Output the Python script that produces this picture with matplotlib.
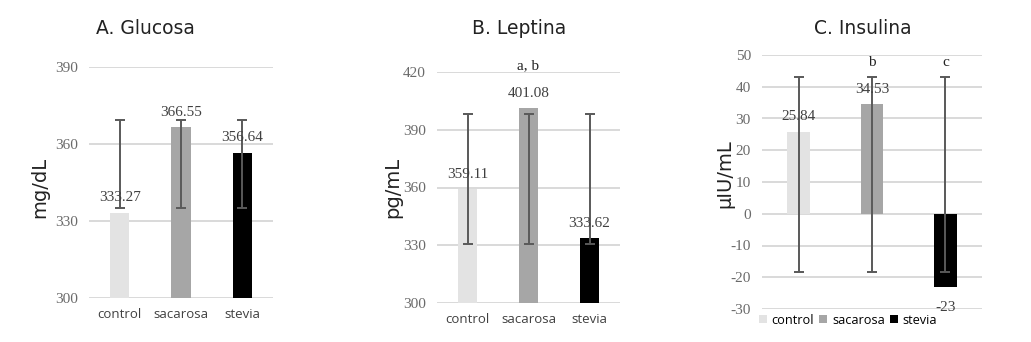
"""Glucosa, leptina e insulina por grupo (control, sacarosa, stevia)."""

import matplotlib
matplotlib.use("Agg")
import matplotlib.pyplot as plt
from matplotlib.patches import Patch

plt.rcParams["axes.unicode_minus"] = False

W, H = 1031, 342

groups = ["control", "sacarosa", "stevia"]
bar_colors = ["#e3e3e3", "#a6a6a6", "#000000"]

glucosa = [333.27, 366.55, 356.64]
glucosa_err_lo = [335.0, 335.0, 335.0]
glucosa_err_hi = [369.5, 369.5, 369.5]
glucosa_ticks = [300, 330, 360, 390]

leptina = [359.11, 401.08, 333.62]
leptina_err_lo = [330.6, 330.6, 330.6]
leptina_err_hi = [398.0, 398.0, 398.0]
leptina_ticks = [300, 330, 360, 390, 420]
leptina_marks = ["", "a, b", ""]

insulina = [25.84, 34.53, -23]
insulina_err_lo = [-18.5, -18.5, -18.5]
insulina_err_hi = [43.1, 43.1, 43.1]
insulina_ticks = [-30, -20, -10, 0, 10, 20, 30, 40, 50]
insulina_marks = ["", "b", "c"]
insulina_labels = ["25.84", "34.53", "-23"]

SERIF = "Liberation Serif"
SANS = "Open Sans"
HEAD = "DejaVu Sans"
GRID = "#d9d9d9"
ERR = "#595959"


def px_rect(x0, x1, y_top, y_bot):
    return [x0 / W, 1 - y_bot / H, (x1 - x0) / W, (y_bot - y_top) / H]


def draw_panel(ax, values, lo, hi, ticks, ylim, labels=None):
    x = list(range(len(values)))
    ax.bar(x, values, width=0.31, color=bar_colors, zorder=2)
    mid = [(a + b) / 2 for a, b in zip(lo, hi)]
    half = [(b - a) / 2 for a, b in zip(lo, hi)]
    ax.errorbar(x, mid, yerr=half, fmt="none", ecolor=ERR, elinewidth=1.4,
                capsize=3.5, capthick=1.4, zorder=3)
    ax.set_xlim(-0.5, 2.5)
    ax.set_ylim(*ylim)
    ax.set_yticks(ticks)
    ax.yaxis.grid(True, color=GRID, linewidth=1.4, zorder=0)
    ax.set_axisbelow(True)
    for s in ax.spines.values():
        s.set_visible(False)
    ax.tick_params(axis="y", length=0, pad=8, labelcolor="#6a6a6a", labelsize=11)
    for t in ax.get_yticklabels():
        t.set_fontfamily(SERIF)
    if labels is None:
        labels = [f"{v:.2f}" for v in values]
    for xi, v, lab in zip(x, values, labels):
        if v >= 0:
            ax.annotate(lab, (xi, v), xytext=(0, 6), textcoords="offset points",
                        ha="center", va="bottom", fontsize=11,
                        family=SERIF, color="#404040", zorder=4)
        else:
            ax.annotate(lab, (xi, v), xytext=(0, -10), textcoords="offset points",
                        ha="center", va="top", fontsize=11,
                        family=SERIF, color="#404040", zorder=4)
    return x


fig = plt.figure(figsize=(W / 100, H / 100), dpi=100)

# A. Glucosa
ax1 = fig.add_axes(px_rect(89, 273, 67, 298))
xa = draw_panel(ax1, glucosa, glucosa_err_lo, glucosa_err_hi, glucosa_ticks, (300, 390))
ax1.set_xticks(xa)
ax1.set_xticklabels(groups, family=SANS, fontsize=9.5, color="#404040")
ax1.tick_params(axis="x", length=0, pad=7)
fig.text(145 / W, 1 - 28 / H, "A. Glucosa", ha="center", va="center",
         family=HEAD, fontsize=13.5, color="#222222")
fig.text(40 / W, 1 - 187 / H, "mg/dL", ha="center", va="center", rotation=90,
         family=HEAD, fontsize=14, color="#222222")

# B. Leptina
ax2 = fig.add_axes(px_rect(437, 620, 72, 303))
xb = draw_panel(ax2, leptina, leptina_err_lo, leptina_err_hi, leptina_ticks, (300, 420))
ax2.set_xticks(xb)
ax2.set_xticklabels(groups, family=SANS, fontsize=9.5, color="#404040")
ax2.tick_params(axis="x", length=0, pad=7)
for xi, m in zip(xb, leptina_marks):
    if m:
        ax2.annotate(m, (xi, 420), xytext=(0, 0), textcoords="offset points",
                     ha="center", va="bottom", fontsize=11, family=SERIF,
                     color="#222222", annotation_clip=False)
fig.text(519 / W, 1 - 29 / H, "B. Leptina", ha="center", va="center",
         family=HEAD, fontsize=13.5, color="#222222")
fig.text(393 / W, 1 - 187 / H, "pg/mL", ha="center", va="center", rotation=90,
         family=HEAD, fontsize=14, color="#222222")

# C. Insulina
ax3 = fig.add_axes(px_rect(762, 982, 55, 309))
xc = draw_panel(ax3, insulina, insulina_err_lo, insulina_err_hi, insulina_ticks,
                (-30, 50), labels=insulina_labels)
ax3.set_xticks([])
for xi, m in zip(xc, insulina_marks):
    if m:
        ax3.annotate(m, (xi, 50), xytext=(0, -1), textcoords="offset points",
                     ha="center", va="top", fontsize=11, family=SERIF,
                     color="#222222")
handles = [Patch(facecolor=c, edgecolor="none") for c in bar_colors]
fig.legend(handles, groups, loc="center", bbox_to_anchor=(848 / W, 1 - 320 / H),
           ncol=3, frameon=False, handlelength=0.6, handleheight=0.6,
           handletextpad=0.4, columnspacing=0.4, borderpad=0,
           prop={"family": SANS, "size": 9.2})
fig.text(863 / W, 1 - 29 / H, "C. Insulina", ha="center", va="center",
         family=HEAD, fontsize=13.5, color="#222222")
fig.text(725 / W, 1 - 174 / H, "µIU/mL", ha="center", va="center", rotation=90,
         family=HEAD, fontsize=14, color="#222222")

fig.savefig("out.png", dpi=100)
